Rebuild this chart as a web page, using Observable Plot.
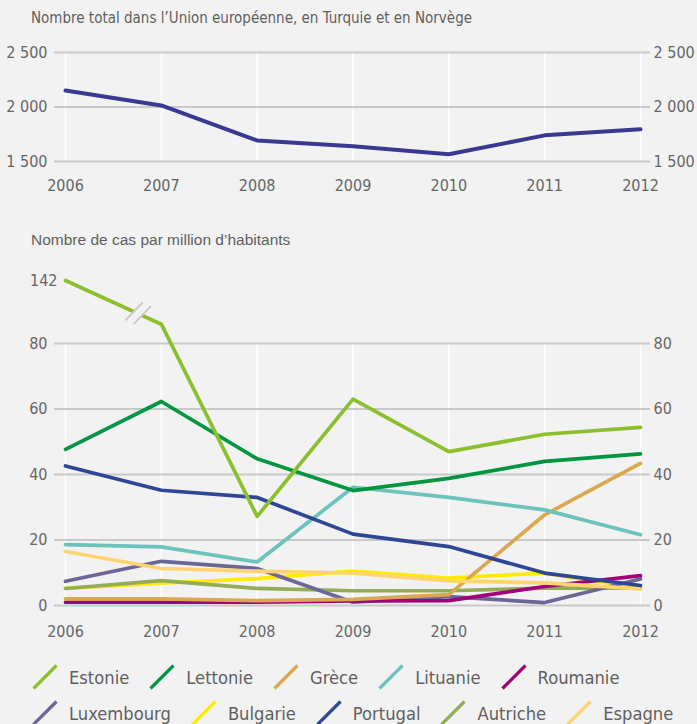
<!DOCTYPE html>
<html><head><meta charset="utf-8">
<script src="https://cdn.jsdelivr.net/npm/d3@7"></script>
<script src="https://cdn.jsdelivr.net/npm/@observablehq/plot@0.6"></script>
<style>
body{margin:0;background:#f2f2f2;width:697px;height:724px;overflow:hidden;position:relative;font-family:"DejaVu Sans Condensed","Liberation Sans",sans-serif;color:#5f5f5f}
.t{position:absolute;left:31px;white-space:nowrap}
#t1{top:9px;font-size:15px}
#t2{top:231px;font-size:15.5px;font-family:"Liberation Sans",Arial,sans-serif}
#c1{position:absolute;left:0;top:30px}
#c2{position:absolute;left:0;top:260px}
#legend{position:absolute;left:32px;top:659px}
.row{display:flex;align-items:center;height:36px}
.item{display:flex;align-items:center;margin-right:20px;font-size:18.2px;color:#5f5f5f}
.item svg{margin-right:11px}
</style></head>
<body>
<div class="t" id="t1">Nombre total dans l’Union européenne, en Turquie et en Norvège</div>
<div class="t" id="t2">Nombre de cas par million d’habitants</div>
<div id="c1"></div>
<div id="c2"></div>
<div id="legend"></div>
<script>
const years = [2006, 2007, 2008, 2009, 2010, 2011, 2012];
const totalEU = [2151, 2014, 1693, 1640, 1566, 1740, 1795];
const topTicks = [1500, 2000, 2500];

const countries = ["Estonie", "Lettonie", "Grèce", "Lituanie", "Roumanie", "Luxembourg", "Bulgarie", "Portugal", "Autriche", "Espagne"];
const estonie    = [142, 99, 27.2, 63.0, 47.0, 52.3, 54.4];
const lettonie   = [47.7, 62.3, 44.8, 35.1, 38.8, 44.0, 46.3];
const grece      = [2.0, 2.0, 1.5, 1.9, 3.3, 27.7, 43.4];
const lituanie   = [18.6, 17.9, 13.3, 36.1, 33.0, 29.2, 21.6];
const roumanie   = [1.0, 1.0, 1.0, 1.4, 1.5, 5.8, 9.1];
const luxembourg = [7.4, 13.5, 11.3, 1.0, 2.7, 0.9, 8.1];
const bulgarie   = [5.2, 6.8, 8.2, 10.5, 8.4, 9.9, 5.3];
const portugal   = [42.6, 35.2, 33.0, 21.8, 18.0, 9.9, 6.1];
const autriche   = [5.2, 7.6, 5.2, 4.5, 4.5, 5.3, 5.3];
const espagne    = [16.5, 11.3, 10.5, 9.9, 7.5, 6.9, 5.1];
const seriesValues = [estonie, lettonie, grece, lituanie, roumanie, luxembourg, bulgarie, portugal, autriche, espagne];
const bottomTicks = [0, 20, 40, 60, 80];
const breakTick = [142];

const colors = ["#8cbf2e", "#00963f", "#d9a84f", "#6cc3bc", "#a2007b", "#6a6797", "#ffeb00", "#2f4696", "#93ad57", "#ffd36f"];
const drawOrder = ["Bulgarie", "Autriche", "Luxembourg", "Roumanie", "Grèce", "Espagne", "Lituanie", "Portugal", "Lettonie", "Estonie"];

const font = {fontFamily: '"DejaVu Sans Condensed","Liberation Sans",sans-serif', fontSize: "16px", color: "#666", background: "transparent", overflow: "visible"};
const grid = "#c9c9c9";
const W = 697;

// Top chart
const topData = years.map((y, i) => ({year: y, value: totalEU[i]}));
const fmt = d => d3.format(",")(d).replace(",", " ");
const c1 = Plot.plot({
  width: W, height: 170,
  marginLeft: 65, marginRight: 57, marginTop: 22, marginBottom: 39,
  style: font,
  x: {type: "linear", domain: [2006, 2012]},
  y: {domain: [1500, 2500]},
  marks: [
    Plot.ruleX(years, {stroke: "#ffffff", strokeWidth: 1.5}),
    Plot.ruleY(topTicks, {stroke: grid, strokeWidth: 1.8, insetLeft: -11, insetRight: -10}),
    Plot.axisY(topTicks, {anchor: "left", tickSize: 0, tickPadding: 18, tickFormat: fmt, label: null}),
    Plot.axisY(topTicks, {anchor: "right", tickSize: 0, tickPadding: 13, tickFormat: fmt, label: null}),
    Plot.axisX(years, {anchor: "bottom", tickSize: 0, tickPadding: 18, tickFormat: d => String(d), label: null}),
    Plot.line(topData, {x: "year", y: "value", stroke: "#393a8f", strokeWidth: 4})
  ]
});
document.getElementById("c1").appendChild(c1);

// Bottom chart: broken scale above 80
const brk = v => v <= 80 ? v : 80 + (v - 80) * 19.24 / 62;
const rows = [];
for (const name of drawOrder) {
  const vals = seriesValues[countries.indexOf(name)];
  years.forEach((y, i) => rows.push({country: name, year: y, value: vals[i]}));
}
const mTop = 20;
function breakMark(index, scales) {
  const Y = Math.abs(scales.y(142) - mTop) < 1 ? v => scales.y(v) : v => scales.y(brk(v));
  const x0 = scales.x(years[0]), y0 = Y(estonie[0]);
  const x1 = scales.x(years[1]), y1 = Y(estonie[1]);
  const t = 0.763;
  const cx = x0 + t * (x1 - x0), cy = y0 + t * (y1 - y0);
  const len = Math.hypot(x1 - x0, y1 - y0);
  const ux = (x1 - x0) / len, uy = (y1 - y0) / len;
  const g = d3.create("svg:g");
  const d = 4.5;
  g.append("line").attr("x1", cx - d * ux).attr("y1", cy - d * uy).attr("x2", cx + d * ux).attr("y2", cy + d * uy)
    .attr("stroke", "#f2f2f2").attr("stroke-width", 7);
  const sx = 0.69, sy = -0.72, h = 12.5;
  for (const s of [-1, 1]) {
    const px = cx + s * d * ux, py = cy + s * d * uy;
    g.append("line").attr("x1", px - h * sx).attr("y1", py - h * sy).attr("x2", px + h * sx).attr("y2", py + h * sy)
      .attr("stroke", "#c8c8c8").attr("stroke-width", 1.8);
  }
  return g.node();
}
const c2 = Plot.plot({
  width: W, height: 390,
  marginLeft: 65, marginRight: 57, marginTop: mTop, marginBottom: 45,
  style: font,
  x: {type: "linear", domain: [2006, 2012]},
  y: {transform: brk, domain: [0, brk(142)]},
  color: {domain: countries, range: colors},
  marks: [
    Plot.ruleX(years, {y1: 0, y2: 80, stroke: "#ffffff", strokeWidth: 1.5}),
    Plot.ruleY(bottomTicks, {stroke: grid, strokeWidth: 1.8, insetLeft: -11, insetRight: -10}),
    Plot.axisY(bottomTicks, {anchor: "left", tickSize: 0, tickPadding: 18, label: null}),
    Plot.axisY(breakTick, {anchor: "left", tickSize: 0, tickPadding: 8, label: null}),
    Plot.axisY(bottomTicks, {anchor: "right", tickSize: 0, tickPadding: 13, label: null}),
    Plot.axisX(years, {anchor: "bottom", tickSize: 0, tickPadding: 20, tickFormat: d => String(d), label: null}),
    Plot.line(rows, {x: "year", y: "value", z: "country", stroke: "country", strokeWidth: 3.7}),
    breakMark
  ]
});
document.getElementById("c2").appendChild(c2);

// Legend
const legendRows = [countries.slice(0, 5), countries.slice(5)];
const leg = d3.select("#legend");
legendRows.forEach(r => {
  const row = leg.append("div").attr("class", "row");
  r.forEach(name => {
    const it = row.append("div").attr("class", "item");
    const s = it.append("svg").attr("width", 26).attr("height", 26);
    s.append("line").attr("x1", 1.5).attr("y1", 24.5).attr("x2", 24.5).attr("y2", 1.5)
      .attr("stroke", colors[countries.indexOf(name)]).attr("stroke-width", 3.2);
    it.append("span").text(name);
  });
});
</script>
</body></html>
